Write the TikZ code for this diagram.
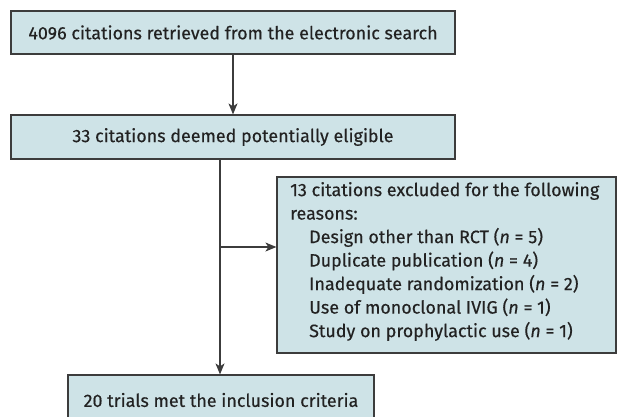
\documentclass[tikz,border=0pt]{standalone}
\usepackage{fontspec}
\setmainfont{Fira Sans}[FakeBold=0.4]
\usetikzlibrary{arrows.meta,calc}
\definecolor{boxfill}{HTML}{CEE3E7}
\definecolor{boxline}{HTML}{3C3C3C}
\definecolor{txt}{HTML}{222222}
\begin{document}
\begin{tikzpicture}[x=1pt,y=-1pt,
  box/.style={draw=boxline,fill=boxfill,line width=1.2pt,inner sep=0pt,
    text=txt,font=\fontsize{17.9}{23.5}\selectfont},
  lbl/.style={inner sep=0pt,text=txt,font=\fontsize{17.9}{23.5}\selectfont,align=left},
  arr/.style={draw=boxline,line width=1.2pt,-{Stealth[length=11pt,width=9pt,inset=3pt]}}]
\useasboundingbox (0,0) rectangle (617,416);
\clip (0,0) rectangle (617,416);
\node[box,minimum width=444pt,minimum height=43pt] (b1) at (233,32.5)
  {4096 citations retrieved from the electronic search};
\node[box,minimum width=444pt,minimum height=44pt] (b2) at (233,137)
  {33 citations deemed potentially eligible};
\node[box,minimum width=339pt,minimum height=176pt] (ex) at (446.5,265) {};
\node[lbl,anchor=west] (extext) at (290,261.5)
  {13 citations excluded for the following\\
   reasons:\\
   \hspace*{19pt}Design other than RCT (\textit{n} = 5)\\
   \hspace*{19pt}Duplicate publication (\textit{n} = 4)\\
   \hspace*{19pt}Inadequate randomization (\textit{n} = 2)\\
   \hspace*{19pt}Use of monoclonal IVIG (\textit{n} = 1)\\
   \hspace*{19pt}Study on prophylactic use (\textit{n} = 1)};
\node[box,minimum width=306pt,minimum height=50pt] (b3) at (221,400)
  {20 trials met the inclusion criteria};
\coordinate (split) at (220,247);
\draw[arr] (b1.south) -- (b2.north);
\draw[arr] (b2.south -| split) -- (b3.north -| split);
\draw[arr] (split) -- (ex.west |- split);
\end{tikzpicture}
\end{document}
